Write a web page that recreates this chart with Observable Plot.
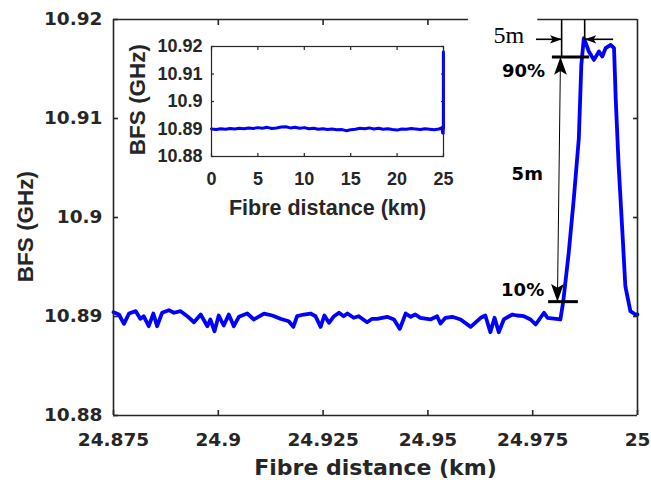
<!DOCTYPE html>
<html><head><meta charset="utf-8">
<script src="https://cdn.jsdelivr.net/npm/d3@7"></script>
<script src="https://cdn.jsdelivr.net/npm/@observablehq/plot@0.6"></script>
<style>
body{margin:0;background:#fff;}
#wrap{position:relative;width:651px;height:492px;background:#fff;}
#wrap svg{position:absolute;left:0;top:0;}
</style></head><body><div id="wrap"></div>
<script>
// ---- main chart data (zoom near fibre end) ----
const distanceKm = [24.8750,24.8763,24.8775,24.8787,24.8803,24.8814,24.8822,24.8834,24.8845,24.8854,24.8866,24.8882,24.8894,24.8910,24.8926,24.8942,24.8958,24.8974,24.8981,24.8991,24.9001,24.9013,24.9025,24.9037,24.9049,24.9069,24.9085,24.9109,24.9129,24.9148,24.9168,24.9179,24.9188,24.9204,24.9220,24.9232,24.9244,24.9253,24.9264,24.9276,24.9288,24.9299,24.9308,24.9323,24.9335,24.9355,24.9367,24.9379,24.9403,24.9419,24.9433,24.9447,24.9459,24.9470,24.9482,24.9506,24.9522,24.9530,24.9542,24.9558,24.9578,24.9602,24.9626,24.9637,24.9649,24.9659,24.9669,24.9681,24.9701,24.9713,24.9729,24.9745,24.9757,24.9777,24.9785,24.9816,24.9823,24.9836,24.9848,24.9860,24.9866,24.9872,24.9884,24.9896,24.9908,24.9916,24.9924,24.9936,24.9944,24.9948,24.9955,24.9964,24.9971,24.9983,24.9995,25.0000];
const bfsGHz = [10.89044,10.89020,10.88926,10.89030,10.89054,10.88977,10.89003,10.88902,10.89030,10.88902,10.89038,10.89064,10.89038,10.89054,10.89003,10.88942,10.89020,10.88902,10.88970,10.88851,10.89010,10.88909,10.89020,10.88902,10.88997,10.89030,10.88970,10.89030,10.89010,10.88977,10.88952,10.88895,10.89003,10.89020,10.89030,10.89003,10.88895,10.89010,10.88936,10.89003,10.89038,10.89003,10.89030,10.88987,10.89003,10.88942,10.88977,10.88977,10.88997,10.88970,10.88875,10.89030,10.88997,10.89020,10.88987,10.88970,10.89003,10.88929,10.88987,10.88997,10.88970,10.88895,10.88987,10.89010,10.88841,10.88987,10.88841,10.88970,10.89020,10.89010,10.89003,10.88970,10.88919,10.89038,10.88987,10.88970,10.89155,10.89647,10.90188,10.90797,10.91541,10.91812,10.91677,10.91592,10.91677,10.91626,10.91711,10.91744,10.91711,10.91203,10.90526,10.89850,10.89308,10.89054,10.89020,10.89020];
// ---- inset data (whole fibre, 0–24.5 km; the end reuses the main data) ----
const insetDistanceKm = [0,0.5,1,1.5,2,2.5,3,3.5,4,4.5,5,5.5,6,6.5,7,7.5,8,8.5,9,9.5,10,10.5,11,11.5,12,12.5,13,13.5,14,14.5,15,15.5,16,16.5,17,17.5,18,18.5,19,19.5,20,20.5,21,21.5,22,22.5,23,23.5,24,24.5];
const insetBfsGHz = [10.8900,10.8898,10.8901,10.8899,10.8902,10.8900,10.8903,10.8901,10.8904,10.8902,10.8905,10.8903,10.8906,10.8902,10.8904,10.8907,10.8908,10.8904,10.8906,10.8903,10.8905,10.8901,10.8903,10.8899,10.8901,10.8898,10.8900,10.8897,10.8898,10.8894,10.8897,10.8899,10.8903,10.8901,10.8904,10.8900,10.8903,10.8899,10.8901,10.8898,10.8896,10.8900,10.8899,10.8902,10.8900,10.8898,10.8901,10.8899,10.8897,10.8900];
// ---- ticks ----
const xTicks = [24.875, 24.9, 24.925, 24.95, 24.975, 25];
const xTickLabels = ["24.875", "24.9", "24.925", "24.95", "24.975", "25"];
const yTicks = [10.88, 10.89, 10.9, 10.91, 10.92];
const yTickLabels = ["10.88", "10.89", "10.9", "10.91", "10.92"];
const insetXTicks = [0, 5, 10, 15, 20, 25];
const insetXTickLabels = ["0", "5", "10", "15", "20", "25"];
// ---- annotations (data coordinates) ----
const levelBars = [{x1: 24.9797, x2: 24.9886, y: 10.9162}, {x1: 24.9788, x2: 24.9859, y: 10.8915}];
const guideLines = [{x: 24.9819, y1: 10.92, y2: 10.9162}, {x: 24.9874, y1: 10.92, y2: 10.9179}];
const riseArrow = {x1: 24.98163, y1: 10.9162, x2: 24.9809, y2: 10.8915};
const widthArrows = [{x1: 24.9759, x2: 24.9819, y: 10.9180}, {x1: 24.9943, x2: 24.9874, y: 10.9180}];
const topBorder = [{x1: 24.875, x2: 24.9597}, {x1: 24.9762, x2: 25}];
const labelsBold = [
  {x: 24.9728, y: 10.9148, t: "90%"},
  {x: 24.9726, y: 10.8927, t: "10%"},
  {x: 24.9737, y: 10.9044, t: "5m"}
];
const labelSerif = [{x: 24.9693, y: 10.9184, t: "5m"}];

const ink = "#262626";
const wideFont = "DejaVu Sans, sans-serif";
const armFont = "Liberation Sans, Arial, sans-serif";

const mainData = distanceKm.map((d, i) => ({x: d, y: bfsGHz[i]}));
const insetData = insetDistanceKm.map((d, i) => ({x: d, y: insetBfsGHz[i]}))
  .concat(mainData);

const arrowHead = {
  draw(context, size) {
    const L = Math.sqrt(size);
    context.moveTo(0, 0);
    context.lineTo(-0.36 * L, L);
    context.lineTo(0, 0.78 * L);
    context.lineTo(0.36 * L, L);
    context.closePath();
  }
};
const fmt = (ticks, labels) => d => labels[ticks.indexOf(d)];

const main = Plot.plot({
  width: 651, height: 492,
  marginLeft: 113, marginRight: 14, marginTop: 19, marginBottom: 77,
  x: {domain: [24.875, 25]},
  y: {domain: [10.88, 10.92]},
  style: {background: "#fff", color: ink, fontFamily: wideFont},
  marks: [
    Plot.line(mainData, {x: "x", y: "y", stroke: "#0000ff", strokeWidth: 3.8, strokeLinejoin: "round"}),
    Plot.ruleX([24.875, 25], {stroke: ink, strokeWidth: 1.6}),
    Plot.ruleY([10.88], {stroke: ink, strokeWidth: 1.6}),
    Plot.ruleY(topBorder, {y: 10.92, x1: "x1", x2: "x2", stroke: ink, strokeWidth: 1.6}),
    Plot.axisX(xTicks, {anchor: "bottom", tickSize: -5, tickPadding: 22, strokeWidth: 1.6, tickFormat: fmt(xTicks, xTickLabels), fontSize: 18.5, fontWeight: "bold", fill: ink, label: null}),
    Plot.axisX([24.9, 24.925, 24.95], {anchor: "top", tickSize: -5, strokeWidth: 1.6, stroke: ink, fill: "none", label: null}),
    Plot.axisY(yTicks, {anchor: "left", tickSize: -5, tickPadding: 16, strokeWidth: 1.6, tickFormat: fmt(yTicks, yTickLabels), fontSize: 18.5, fontWeight: "bold", fill: ink, label: null}),
    Plot.axisY([10.89, 10.9, 10.91], {anchor: "right", tickSize: -5, strokeWidth: 1.6, stroke: ink, fill: "none", label: null}),
    Plot.text(["Fibre distance (km)"], {frameAnchor: "bottom", textAnchor: "middle", lineAnchor: "middle", dy: 52, fontSize: 22, fontWeight: "bold", fill: ink}),
    Plot.text(["BFS (GHz)"], {frameAnchor: "left", textAnchor: "middle", lineAnchor: "middle", rotate: -90, dx: -88, dy: 9, fontSize: 22.5, fontWeight: "bold", fill: ink, fontFamily: armFont}),
    // annotations
    Plot.ruleY(levelBars, {y: "y", x1: "x1", x2: "x2", stroke: "#000", strokeWidth: 3}),
    Plot.ruleX(guideLines, {x: "x", y1: "y1", y2: "y2", stroke: "#000", strokeWidth: 1.6}),
    Plot.link([riseArrow], {x1: "x1", y1: "y1", x2: "x2", y2: "y2", stroke: "#000", strokeWidth: 1}),
    Plot.dot([riseArrow], {x: "x1", y: "y1", r: 10, symbol: arrowHead, fill: "#000", stroke: "none", rotate: 0}),
    Plot.dot([riseArrow], {x: "x2", y: "y2", r: 10, symbol: arrowHead, fill: "#000", stroke: "none", rotate: 180}),
    Plot.ruleY(widthArrows, {y: "y", x1: "x1", x2: "x2", stroke: "#000", strokeWidth: 1.6}),
    Plot.dot(widthArrows.slice(0, 1), {x: "x2", y: "y", r: 6.5, symbol: arrowHead, fill: "#000", stroke: "none", rotate: 90}),
    Plot.dot(widthArrows.slice(1), {x: "x2", y: "y", r: 6.5, symbol: arrowHead, fill: "#000", stroke: "none", rotate: -90}),
    Plot.text(labelsBold, {x: "x", y: "y", text: "t", fontSize: 18, fontWeight: "bold", fill: "#000"}),
    Plot.text(labelSerif, {x: "x", y: "y", text: "t", fontSize: 24, fontFamily: "Liberation Serif, Times New Roman, serif", fill: "#000"})
  ]
});

const inset = Plot.plot({
  width: 651, height: 492,
  marginLeft: 211, marginRight: 208, marginTop: 46, marginBottom: 336,
  x: {domain: [0, 25]},
  y: {domain: [10.88, 10.92]},
  style: {background: "transparent", color: ink, fontFamily: armFont},
  marks: [
    Plot.line(insetData, {x: "x", y: "y", stroke: "#0000ff", strokeWidth: 3, strokeLinejoin: "round"}),
    Plot.frame({stroke: ink, strokeWidth: 1.2}),
    Plot.axisX(insetXTicks, {anchor: "bottom", tickSize: -3, tickPadding: 18.5, strokeWidth: 1.2, tickFormat: fmt(insetXTicks, insetXTickLabels), fontSize: 18, fontWeight: "bold", fill: ink, label: null}),
    Plot.axisX(insetXTicks, {anchor: "top", tickSize: -3, strokeWidth: 1.2, stroke: ink, fill: "none", label: null}),
    Plot.axisY(yTicks, {anchor: "left", tickSize: -3, tickPadding: 12, strokeWidth: 1.2, tickFormat: fmt(yTicks, yTickLabels), fontSize: 18, fontWeight: "bold", fill: ink, label: null}),
    Plot.axisY(yTicks, {anchor: "right", tickSize: -3, strokeWidth: 1.2, stroke: ink, fill: "none", label: null}),
    Plot.text(["Fibre distance (km)"], {frameAnchor: "bottom", textAnchor: "middle", lineAnchor: "middle", dy: 52, fontSize: 21.5, fontWeight: "bold", fill: ink}),
    Plot.text(["BFS (GHz)"], {frameAnchor: "left", textAnchor: "middle", lineAnchor: "middle", rotate: -90, dx: -74, dy: -2, fontSize: 22.5, fontWeight: "bold", fill: ink})
  ]
});

const wrap = document.getElementById("wrap");
wrap.appendChild(main);
wrap.appendChild(inset);
</script>
</body></html>
